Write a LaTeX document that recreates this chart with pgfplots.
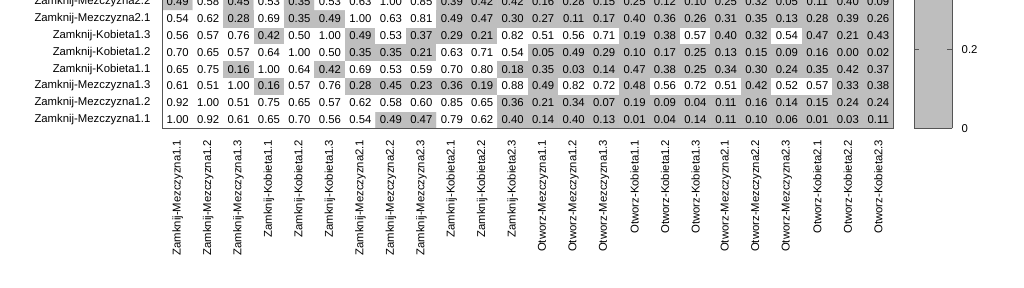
\documentclass[border=0pt]{standalone}
\usepackage{pgfplots}
\pgfplotsset{compat=1.18}
\usepackage{fontspec}
\setmainfont{Liberation Sans}
\definecolor{bordergrey}{RGB}{85,85,85}
\pgfkeys{/pgf/number format/assume math mode=true}
\newcommand{\lblfont}{\fontsize{8.5pt}{10pt}\selectfont}
\begin{document}
\begin{tikzpicture}
\useasboundingbox (0,0) rectangle (768pt,216pt);
\clip (0,0) rectangle (768pt,216pt);
\begin{axis}[
  at={(121.8pt,119.8pt)}, anchor=south west,
  scale only axis, width=548.3pt, height=114.1pt,
  xmin=-0.5, xmax=23.5, ymin=-0.5, ymax=8.5,
  enlargelimits=false,
  axis line style={bordergrey, line width=0.75pt},
  axis on top,
  xtick={0,...,23}, ytick={0,...,7},
  xticklabels={Zamknij-Mezczyzna1.1,Zamknij-Mezczyzna1.2,Zamknij-Mezczyzna1.3,Zamknij-Kobieta1.1,Zamknij-Kobieta1.2,Zamknij-Kobieta1.3,Zamknij-Mezczyzna2.1,Zamknij-Mezczyzna2.2,Zamknij-Mezczyzna2.3,Zamknij-Kobieta2.1,Zamknij-Kobieta2.2,Zamknij-Kobieta2.3,Otworz-Mezczyzna1.1,Otworz-Mezczyzna1.2,Otworz-Mezczyzna1.3,Otworz-Kobieta1.1,Otworz-Kobieta1.2,Otworz-Kobieta1.3,Otworz-Mezczyzna2.1,Otworz-Mezczyzna2.2,Otworz-Mezczyzna2.3,Otworz-Kobieta2.1,Otworz-Kobieta2.2,Otworz-Kobieta2.3},
  yticklabels={Zamknij-Mezczyzna1.1,Zamknij-Mezczyzna1.2,Zamknij-Mezczyzna1.3,Zamknij-Kobieta1.1,Zamknij-Kobieta1.2,Zamknij-Kobieta1.3,Zamknij-Mezczyzna2.1,Zamknij-Mezczyzna2.2},
  major tick length=0pt, tick style={draw=none},
  xticklabel style={rotate=90, anchor=east, inner sep=0pt, font=\lblfont},
  yticklabel style={anchor=east, inner sep=0pt, font=\lblfont},
  xticklabel shift=8.4pt, yticklabel shift=8.8pt,
  colormap={gw}{rgb255(0cm)=(190,190,190); rgb255(49cm)=(190,190,190); rgb255(50cm)=(255,255,255); rgb255(100cm)=(255,255,255)},
  point meta min=0, point meta max=1,
  colorbar sampled,
  colorbar style={
    at={(parent axis.south east)}, anchor=south west, xshift=7.2pt,
    scale only axis, width=28.5pt, height=295pt,
    samples=11,
    xtick=\empty,
    ytick={0,0.2,0.4,0.6,0.8,1},
    ytick pos=both, yticklabel pos=right,
    tick align=inside,
    major tick length=3.75pt,
    tick style={draw=bordergrey, line width=0.6pt},
    axis line style={bordergrey, line width=0.75pt},
    yticklabel style={font=\lblfont, inner sep=0pt, anchor=west},
    yticklabel shift=6.75pt,
  },
]
\addplot[matrix plot*, mesh/cols=24, point meta=explicit,
  nodes near coords={\pgfmathprintnumber[fixed,fixed zerofill,precision=2]{\pgfplotspointmeta}},
  every node near coord/.append style={anchor=center, inner sep=0pt, font=\lblfont, text=black}]
coordinates {
(0,0)[1.00] (1,0)[0.92] (2,0)[0.61] (3,0)[0.65] (4,0)[0.70] (5,0)[0.56] (6,0)[0.54] (7,0)[0.49] (8,0)[0.47] (9,0)[0.79] (10,0)[0.62] (11,0)[0.40] (12,0)[0.14] (13,0)[0.40] (14,0)[0.13] (15,0)[0.01] (16,0)[0.04] (17,0)[0.14] (18,0)[0.11] (19,0)[0.10] (20,0)[0.06] (21,0)[0.01] (22,0)[0.03] (23,0)[0.11]
(0,1)[0.92] (1,1)[1.00] (2,1)[0.51] (3,1)[0.75] (4,1)[0.65] (5,1)[0.57] (6,1)[0.62] (7,1)[0.58] (8,1)[0.60] (9,1)[0.85] (10,1)[0.65] (11,1)[0.36] (12,1)[0.21] (13,1)[0.34] (14,1)[0.07] (15,1)[0.19] (16,1)[0.09] (17,1)[0.04] (18,1)[0.11] (19,1)[0.16] (20,1)[0.14] (21,1)[0.15] (22,1)[0.24] (23,1)[0.24]
(0,2)[0.61] (1,2)[0.51] (2,2)[1.00] (3,2)[0.16] (4,2)[0.57] (5,2)[0.76] (6,2)[0.28] (7,2)[0.45] (8,2)[0.23] (9,2)[0.36] (10,2)[0.19] (11,2)[0.88] (12,2)[0.49] (13,2)[0.82] (14,2)[0.72] (15,2)[0.48] (16,2)[0.56] (17,2)[0.72] (18,2)[0.51] (19,2)[0.42] (20,2)[0.52] (21,2)[0.57] (22,2)[0.33] (23,2)[0.38]
(0,3)[0.65] (1,3)[0.75] (2,3)[0.16] (3,3)[1.00] (4,3)[0.64] (5,3)[0.42] (6,3)[0.69] (7,3)[0.53] (8,3)[0.59] (9,3)[0.70] (10,3)[0.80] (11,3)[0.18] (12,3)[0.35] (13,3)[0.03] (14,3)[0.14] (15,3)[0.47] (16,3)[0.38] (17,3)[0.25] (18,3)[0.34] (19,3)[0.30] (20,3)[0.24] (21,3)[0.35] (22,3)[0.42] (23,3)[0.37]
(0,4)[0.70] (1,4)[0.65] (2,4)[0.57] (3,4)[0.64] (4,4)[1.00] (5,4)[0.50] (6,4)[0.35] (7,4)[0.35] (8,4)[0.21] (9,4)[0.63] (10,4)[0.71] (11,4)[0.54] (12,4)[0.05] (13,4)[0.49] (14,4)[0.29] (15,4)[0.10] (16,4)[0.17] (17,4)[0.25] (18,4)[0.13] (19,4)[0.15] (20,4)[0.09] (21,4)[0.16] (22,4)[0.00] (23,4)[0.02]
(0,5)[0.56] (1,5)[0.57] (2,5)[0.76] (3,5)[0.42] (4,5)[0.50] (5,5)[1.00] (6,5)[0.49] (7,5)[0.53] (8,5)[0.37] (9,5)[0.29] (10,5)[0.21] (11,5)[0.82] (12,5)[0.51] (13,5)[0.56] (14,5)[0.71] (15,5)[0.19] (16,5)[0.38] (17,5)[0.57] (18,5)[0.40] (19,5)[0.32] (20,5)[0.54] (21,5)[0.47] (22,5)[0.21] (23,5)[0.43]
(0,6)[0.54] (1,6)[0.62] (2,6)[0.28] (3,6)[0.69] (4,6)[0.35] (5,6)[0.49] (6,6)[1.00] (7,6)[0.63] (8,6)[0.81] (9,6)[0.49] (10,6)[0.47] (11,6)[0.30] (12,6)[0.27] (13,6)[0.11] (14,6)[0.17] (15,6)[0.40] (16,6)[0.36] (17,6)[0.26] (18,6)[0.31] (19,6)[0.35] (20,6)[0.13] (21,6)[0.28] (22,6)[0.39] (23,6)[0.26]
(0,7)[0.49] (1,7)[0.58] (2,7)[0.45] (3,7)[0.53] (4,7)[0.35] (5,7)[0.53] (6,7)[0.63] (7,7)[1.00] (8,7)[0.85] (9,7)[0.39] (10,7)[0.42] (11,7)[0.42] (12,7)[0.16] (13,7)[0.28] (14,7)[0.15] (15,7)[0.25] (16,7)[0.12] (17,7)[0.10] (18,7)[0.25] (19,7)[0.32] (20,7)[0.05] (21,7)[0.11] (22,7)[0.40] (23,7)[0.09]
};
\end{axis}
\end{tikzpicture}
\end{document}
